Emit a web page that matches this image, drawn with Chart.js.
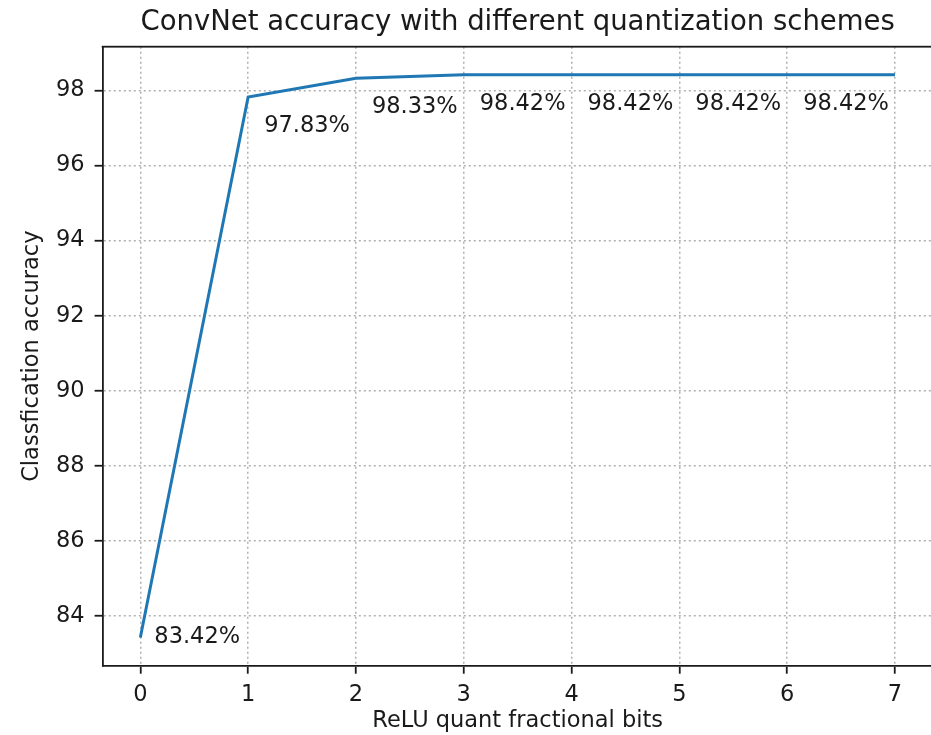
<!DOCTYPE html>
<html>
<head>
<meta charset="utf-8">
<script src="https://cdn.jsdelivr.net/npm/chart.js@4/dist/chart.umd.min.js"></script>
<style>
	html, body { margin: 0; padding: 0; background: #fff; overflow: hidden; }
	#wrap { width: 931px; height: 735px; overflow: hidden; }
</style>
</head>
<body>
<div id="wrap"><canvas id="myChart" width="936" height="735"></canvas></div>
<script>
const fracBits = [0, 1, 2, 3, 4, 5, 6, 7];
const accuracy = [83.42, 97.83, 98.33, 98.42, 98.42, 98.42, 98.42, 98.42];
const yTicks = [84, 86, 88, 90, 92, 94, 96, 98];

const FONT = 'DejaVu Sans';
const TEXT = '#1a1a1a';

// top spine, title and value labels, drawn like the matplotlib original
const extras = {
	id: 'extras',
	afterDatasetsDraw(chart) {
		const ctx = chart.ctx;
		const a = chart.chartArea;
		const xs = chart.scales.x, ys = chart.scales.y;
		ctx.save();
		ctx.fillStyle = '#1a1a1a';
		ctx.fillRect(a.left - 0.9, a.top - 0.9, chart.width - a.left + 0.9, 1.8);

		ctx.fillStyle = TEXT;
		ctx.font = '27.5px "' + FONT + '"';
		ctx.textAlign = 'center';
		ctx.textBaseline = 'alphabetic';
		ctx.fillText('ConvNet accuracy with different quantization schemes', (a.left + a.right) / 2, 30);

		// the last point has no label in the original
		ctx.font = '22.5px "' + FONT + '"';
		ctx.textAlign = 'left';
		ctx.textBaseline = 'middle';
		for (let i = 0; i < fracBits.length - 1; i++) {
			const px = xs.getPixelForValue(fracBits[i]);
			const py = ys.getPixelForValue(accuracy[i]);
			const dx = i === 0 ? 14 : 16;
			const dy = i === 0 ? 0 : 29;
			ctx.fillText(accuracy[i].toFixed(2) + '%', px + dx, py + dy);
		}
		ctx.restore();
	}
};

const gridOpts = {
	color: '#b0b0b0',
	lineWidth: 1.5,
	drawTicks: true,
	tickLength: 8,
	tickColor: '#1a1a1a',
	tickWidth: 1.8,
	tickBorderDash: []
};
const borderOpts = { display: true, color: '#1a1a1a', width: 1.8, dash: [2, 3] };

function createChart(){
	var chart = document.getElementById('myChart');

	const data = {
		datasets: [{
			label: 'accuracy',
			data: fracBits.map(function(b, i) { return {x: b, y: accuracy[i]}; }),
			borderColor: '#1f77b4',
			backgroundColor: '#1f77b4',
			borderWidth: 3,
			pointRadius: 0,
			tension: 0,
			fill: false
		}]
	};

	const config = {
		type: 'line',
		data: data,
		options: {
			responsive: false,
			animation: false,
			devicePixelRatio: 1,
			layout: { padding: { top: 46.7, right: 3.3, left: 0, bottom: 0 } },
			plugins: {
				legend: { display: false },
				tooltip: { enabled: false }
			},
			scales: {
				x: {
					type: 'linear',
					min: -0.35,
					max: 7.35,
					afterFit: function(s) { s.height = 69.3; },
					ticks: {
						stepSize: 1,
						includeBounds: false,
						padding: 8,
						color: TEXT,
						font: { family: FONT, size: 22.5 }
					},
					grid: gridOpts,
					border: borderOpts,
					title: {
						display: true,
						text: 'ReLU quant fractional bits',
						color: TEXT,
						font: { family: FONT, size: 22.5 },
						padding: { top: 0, bottom: 0 }
					}
				},
				y: {
					type: 'linear',
					min: 82.67,
					max: 99.17,
					afterFit: function(s) { s.width = 102.6; },
					afterBuildTicks: function(s) { s.ticks = yTicks.map(function(v) { return {value: v}; }); },
					ticks: {
						padding: 10,
						color: TEXT,
						font: { family: FONT, size: 22.5 }
					},
					grid: gridOpts,
					border: borderOpts,
					title: {
						display: true,
						text: 'Classfication accuracy',
						color: TEXT,
						font: { family: FONT, size: 22.5 },
						padding: { top: 18.5, bottom: 0 }
					}
				}
			}
		},
		plugins: [extras]
	};

	const myChart = new Chart(chart, config);
}

document.addEventListener("DOMContentLoaded", createChart);
</script>
</body>
</html>
